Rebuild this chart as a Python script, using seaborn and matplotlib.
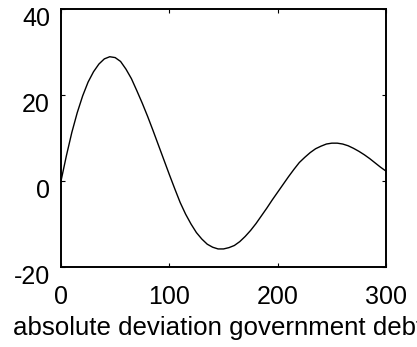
import matplotlib
matplotlib.use("Agg")
import matplotlib.pyplot as plt
import matplotlib.transforms as mtransforms
import seaborn as sns
import pandas as pd

x_vals = [0, 5, 10, 15, 20, 25, 30, 35, 40, 45, 50, 55, 60, 65, 70, 75, 80, 85, 90,
          95, 100, 105, 110, 115, 120, 125, 130, 135, 140, 145, 150, 155, 160, 165,
          170, 175, 180, 185, 190, 195, 200, 205, 210, 215, 220, 225, 230, 235, 240,
          245, 250, 255, 260, 265, 270, 275, 280, 285, 290, 295, 300]
y_vals = [0.0, 5.9, 11.3, 15.9, 19.8, 23.0, 25.4, 27.2, 28.4, 28.9, 28.7, 27.8,
          26.0, 23.8, 21.0, 18.1, 15.0, 11.7, 8.3, 4.9, 1.5, -1.8, -5.0, -7.7,
          -10.0, -12.0, -13.5, -14.7, -15.4, -15.8, -15.8, -15.5, -15.0, -14.1,
          -12.9, -11.5, -9.9, -8.1, -6.3, -4.4, -2.6, -0.8, 1.0, 2.7, 4.3, 5.5,
          6.6, 7.5, 8.1, 8.6, 8.8, 8.8, 8.6, 8.2, 7.6, 6.9, 6.1, 5.2, 4.2, 3.2, 2.3]
x_ticks = [0, 100, 200, 300]
y_ticks = [-20, 0, 20, 40]
x_label = "absolute deviation government debt"

df = pd.DataFrame({"x": x_vals, "y": y_vals})

sns.set_style("white")
plt.rcParams["font.family"] = ["Liberation Sans", "DejaVu Sans"]

fig = plt.figure(figsize=(4.17, 3.47), dpi=100)
ax = fig.add_axes([61 / 417, 1 - 267 / 347, (386 - 61) / 417, (267 - 9) / 347])

sns.lineplot(data=df, x="x", y="y", ax=ax, color="black", linewidth=1.0)

ax.set_xlim(0, 300)
ax.set_ylim(-20, 40)
ax.set_xticks(x_ticks)
ax.set_yticks(y_ticks)
ax.set_xticklabels([str(v) for v in x_ticks])
ax.set_yticklabels([str(v) for v in y_ticks])
ax.set_ylabel("")
ax.set_xlabel(x_label, fontsize=18.6, color="black")
ax.xaxis.label.set_horizontalalignment("left")
ax.xaxis.label.set_verticalalignment("top")
ax.xaxis.set_label_coords((13 - 61) / 325, -(316 - 267) / 258)

for s in ax.spines.values():
    s.set_visible(True)
    s.set_color("black")
    s.set_linewidth(1.4)

ax.tick_params(axis="both", which="major", direction="in", length=3, width=0.8,
               top=True, right=True, bottom=True, left=True, labelsize=18,
               colors="black")
ax.tick_params(axis="x", pad=13)
ax.tick_params(axis="y", pad=8)

offset = mtransforms.ScaledTranslation(0, -8 / 100, fig.dpi_scale_trans)
for lab in ax.get_yticklabels():
    lab.set_transform(lab.get_transform() + offset)

fig.savefig("out.png", dpi=100)
